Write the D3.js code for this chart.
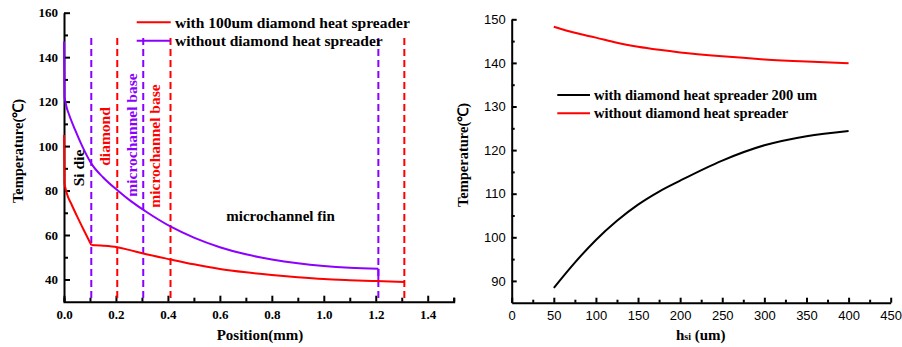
<!DOCTYPE html>
<html><head><meta charset="utf-8">
<script src="https://cdn.jsdelivr.net/npm/d3@7"></script>
<style>
body{margin:0;background:#fff;}
svg{display:block;}
</style></head>
<body><svg id="c" width="902" height="347"></svg>
<script>
// ---------- Left chart data ----------
const posWith = [0, 0.002, 0.01, 0.03, 0.05, 0.075, 0.105, 0.15, 0.205, 0.25, 0.305, 0.41, 0.5, 0.6, 0.7, 0.8, 0.9, 1.0, 1.1, 1.2, 1.31];
const tempWith = [105, 83, 79, 73.5, 68.5, 62.5, 55.5, 55.2, 54.5, 53.3, 51.7, 49, 46.8, 44.7, 43.2, 42, 41, 40.2, 39.7, 39.3, 38.9];
const posWithout = [0, 0.002, 0.01, 0.02, 0.042, 0.07, 0.106, 0.15, 0.209, 0.26, 0.312, 0.415, 0.5, 0.6, 0.7, 0.8, 0.9, 1.0, 1.1, 1.21, 1.21];
const tempWithout = [147, 122, 117.5, 114, 107.5, 100, 92, 86, 79.8, 75, 70.8, 63.5, 58.8, 54.5, 51.3, 49, 47.3, 46.1, 45.3, 44.8, 39.3];
const boundaryPos = [0.105, 0.205, 0.305, 0.41, 1.21, 1.31];
const boundaryColor = ["#8b00ff", "red", "#8b00ff", "red", "#8b00ff", "red"];
const leftXTicks = [0, 0.2, 0.4, 0.6, 0.8, 1.0, 1.2, 1.4];
const leftYTicks = [40, 60, 80, 100, 120, 140, 160];
const leftLegend = ["with 100um diamond heat spreader", "without diamond heat spreader"];

// ---------- Right chart data ----------
const hsi = [50, 75, 100, 125, 150, 175, 200, 250, 300, 350, 400];
const tempDiamond200 = [88.4, 94.2, 99.4, 103.8, 107.5, 110.5, 113.0, 117.6, 121.1, 123.2, 124.4];
const tempNoDiamond = [148.3, 146.9, 145.8, 144.6, 143.7, 143.0, 142.4, 141.5, 140.8, 140.3, 139.9];
const rightXTicks = [0, 50, 100, 150, 200, 250, 300, 350, 400, 450];
const rightYTicks = [90, 100, 110, 120, 130, 140, 150];
const rightLegend = ["with diamond heat spreader 200 um", "without diamond heat spreader"];

const PURPLE = "#8b00ff";
const svg = d3.select("#c");
const serif = "'Liberation Serif', 'Times New Roman', serif";
const sans = "'Liberation Sans', Arial, sans-serif";

function styleAxis(g, font, bold, size) {
  g.select(".domain").attr("stroke", "#000").attr("stroke-width", 2);
  g.selectAll(".tick line").attr("stroke", "#000").attr("stroke-width", 2);
  g.selectAll(".tick text").attr("font-family", font).attr("font-weight", bold ? "bold" : "normal")
    .attr("font-size", size).attr("fill", "#000");
}

// ================= LEFT =================
const lx = d3.scaleLinear().domain([0, 1.5]).range([64, 453.7]);
const ly = d3.scaleLinear().domain([30, 160]).range([301.7, 12.7]);
const L = svg.append("g");

const lxMinor = d3.range(0.1, 1.51, 0.2);
const lyMinor = d3.range(50, 160, 20);
L.append("g").attr("transform", "translate(0,301.7)")
  .call(d3.axisBottom(lx).tickValues(lxMinor).tickSize(-4).tickFormat(""))
  .call(g => { g.select(".domain").remove(); g.selectAll(".tick line").attr("stroke", "#000").attr("stroke-width", 2); });
L.append("g").attr("transform", "translate(64,0)")
  .call(d3.axisLeft(ly).tickValues(lyMinor).tickSize(-4).tickFormat(""))
  .call(g => { g.select(".domain").remove(); g.selectAll(".tick line").attr("stroke", "#000").attr("stroke-width", 2); });

const lxAxis = L.append("g").attr("transform", "translate(0,301.7)")
  .call(d3.axisBottom(lx).tickValues(leftXTicks).tickSize(-6).tickSizeOuter(-4).tickPadding(8).tickFormat(d3.format(".1f")));
styleAxis(lxAxis, serif, true, 13);
const lyAxis = L.append("g").attr("transform", "translate(64,0)")
  .call(d3.axisLeft(ly).tickValues(leftYTicks).tickSize(-6).tickSizeOuter(0).tickPadding(6).tickFormat(d3.format("d")));
styleAxis(lyAxis, serif, true, 13);

L.selectAll(".bnd").data(boundaryPos).join("line")
  .attr("x1", d => lx(d)).attr("x2", d => lx(d))
  .attr("y1", ly(148.6)).attr("y2", ly(30))
  .attr("stroke", (d, i) => boundaryColor[i]).attr("stroke-width", 2)
  .attr("stroke-dasharray", "7,4");

const smooth = d3.line().curve(d3.curveMonotoneX).x(d => lx(d[0])).y(d => ly(d[1]));
const straight = d3.line().x(d => lx(d[0])).y(d => ly(d[1]));
function drawSeries(pos, temp, color, breaks) {
  const pts = pos.map((p, i) => [p, temp[i]]);
  let idx = [0, ...breaks, pts.length - 1];
  for (let k = 0; k < idx.length - 1; k++) {
    const seg = pts.slice(idx[k], idx[k + 1] + 1);
    const gen = seg.length === 2 ? straight : smooth;
    L.append("path").datum(seg).attr("d", gen).attr("fill", "none")
      .attr("stroke", color).attr("stroke-width", 2).attr("stroke-linejoin", "round");
  }
}
drawSeries(posWithout, tempWithout, PURPLE, [1, posWithout.length - 2]);
drawSeries(posWith, tempWith, "red", [1, 6]);

[["red", 22.3], [PURPLE, 40.7]].forEach((c, i) => {
  L.append("line").attr("x1", 136.7).attr("x2", 170.7).attr("y1", c[1]).attr("y2", c[1])
    .attr("stroke", c[0]).attr("stroke-width", 2);
  L.append("text").attr("x", 175).attr("y", c[1]).attr("dy", "0.35em").text(leftLegend[i])
    .attr("font-family", serif).attr("font-weight", "bold").attr("font-size", 15.5);
});

function vlabel(x, y, txt, color) {
  L.append("text").attr("transform", `translate(${x},${y}) rotate(-90)`)
    .attr("text-anchor", "middle").attr("dy", "0.35em").text(txt)
    .attr("font-family", serif).attr("font-weight", "bold").attr("font-size", 15.5).attr("fill", color);
}
vlabel(79, 168, "Si die", "#000");
vlabel(105, 136.5, "diamond", "red");
vlabel(131.5, 135, "microchannel base", PURPLE);
vlabel(155, 146, "microchannel base", "red");
L.append("text").attr("x", 280.5).attr("y", 216).attr("dy", "0.35em").attr("text-anchor", "middle")
  .text("microchannel fin").attr("font-family", serif).attr("font-weight", "bold").attr("font-size", 15);

L.append("text").attr("x", 260).attr("y", 335).attr("dy", "0.35em").attr("text-anchor", "middle")
  .text("Position(mm)").attr("font-family", serif).attr("font-weight", "bold").attr("font-size", 15);
L.append("text").attr("transform", "translate(18,151) rotate(-90)").attr("dy", "0.35em").attr("text-anchor", "middle")
  .text("Temperature(℃)").attr("font-family", serif).attr("font-weight", "bold").attr("font-size", 14.5);

// ================= RIGHT =================
const rx = d3.scaleLinear().domain([0, 450]).range([511.7, 890.7]);
const ry = d3.scaleLinear().domain([85, 150]).range([302.7, 19.3]);
const R = svg.append("g");

R.append("g").attr("transform", "translate(0,302.7)")
  .call(d3.axisBottom(rx).tickValues(d3.range(25, 450, 50)).tickSize(-3).tickFormat(""))
  .call(g => { g.select(".domain").remove(); g.selectAll(".tick line").attr("stroke", "#000").attr("stroke-width", 2); });
R.append("g").attr("transform", "translate(511.7,0)")
  .call(d3.axisLeft(ry).tickValues(d3.range(95, 150, 10)).tickSize(-3).tickFormat(""))
  .call(g => { g.select(".domain").remove(); g.selectAll(".tick line").attr("stroke", "#000").attr("stroke-width", 2); });

const rxAxis = R.append("g").attr("transform", "translate(0,302.7)")
  .call(d3.axisBottom(rx).tickValues(rightXTicks).tickSize(-5).tickSizeOuter(0).tickPadding(8).tickFormat(d3.format("d")));
styleAxis(rxAxis, sans, false, 13);
const ryAxis = R.append("g").attr("transform", "translate(511.7,0)")
  .call(d3.axisLeft(ry).tickValues(rightYTicks).tickSize(-5).tickSizeOuter(0).tickPadding(6).tickFormat(d3.format("d")));
styleAxis(ryAxis, sans, false, 13);

const rline = d3.line().curve(d3.curveMonotoneX).x(d => rx(d[0])).y(d => ry(d[1]));
R.append("path").datum(hsi.map((h, i) => [h, tempNoDiamond[i]]))
  .attr("d", rline).attr("fill", "none").attr("stroke", "red").attr("stroke-width", 2);
R.append("path").datum(hsi.map((h, i) => [h, tempDiamond200[i]]))
  .attr("d", rline).attr("fill", "none").attr("stroke", "#000").attr("stroke-width", 2);

[["#000", 95], ["red", 113.3]].forEach((c, i) => {
  R.append("line").attr("x1", 557.3).attr("x2", 590).attr("y1", c[1]).attr("y2", c[1])
    .attr("stroke", c[0]).attr("stroke-width", 2);
  R.append("text").attr("x", 594).attr("y", c[1]).attr("dy", "0.35em").text(rightLegend[i])
    .attr("font-family", serif).attr("font-weight", "bold").attr("font-size", 14.5);
});

R.append("text").attr("transform", "translate(463.3,155) rotate(-90)").attr("dy", "0.35em").attr("text-anchor", "middle")
  .text("Temperature(℃)").attr("font-family", serif).attr("font-weight", "bold").attr("font-size", 14.5);
const ht = R.append("text").attr("x", 700.7).attr("y", 335).attr("dy", "0.35em").attr("text-anchor", "middle")
  .attr("font-family", serif).attr("font-weight", "bold").attr("font-size", 15);
ht.append("tspan").text("h");
ht.append("tspan").attr("font-size", 10).text("si");
ht.append("tspan").text(" (um)");
</script>
</body></html>
